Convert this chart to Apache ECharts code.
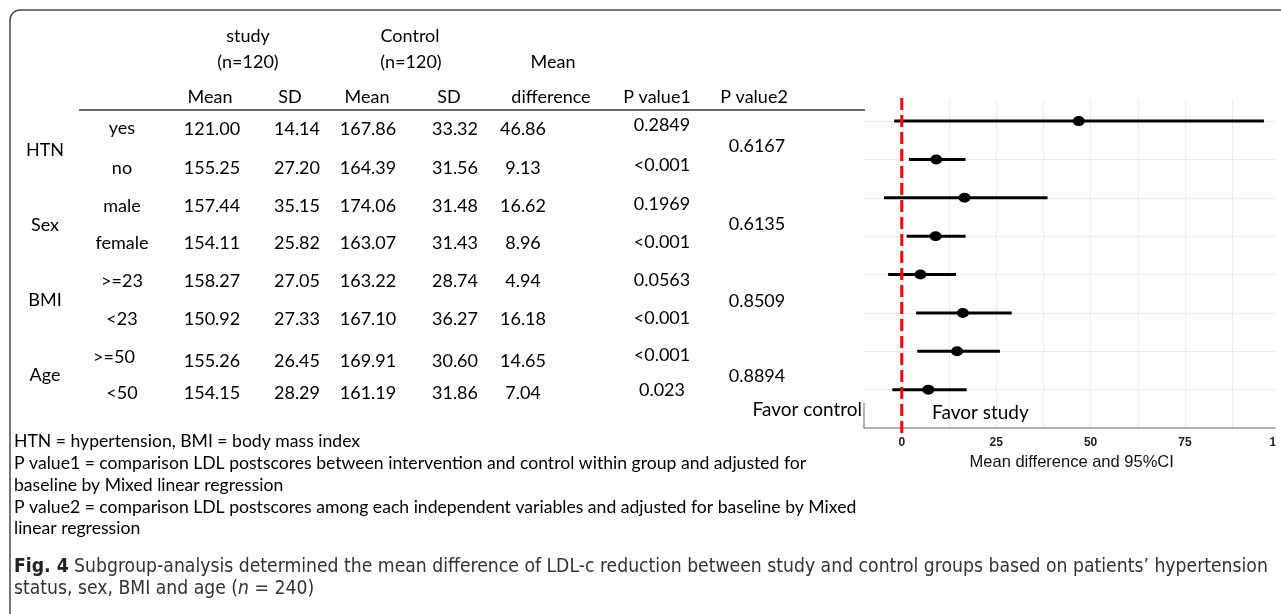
<!DOCTYPE html>
<html>
<head>
<meta charset="utf-8">
<script src="https://cdn.jsdelivr.net/npm/echarts@6/dist/echarts.min.js"></script>
<style>
  html, body { margin: 0; padding: 0; background: #fff; }
  #chart { width: 1281px; height: 614px; }
</style>
</head>
<body>
<div id="chart"></div>
<script>
// Subgroup table values
const groups = ['HTN', 'Sex', 'BMI', 'Age'];
const subgroups = ['yes', 'no', 'male', 'female', '>=23', '<23', '>=50', '<50'];
const studyMean = ['121.00', '155.25', '157.44', '154.11', '158.27', '150.92', '155.26', '154.15'];
const studySD = ['14.14', '27.20', '35.15', '25.82', '27.05', '27.33', '26.45', '28.29'];
const controlMean = ['167.86', '164.39', '174.06', '163.07', '163.22', '167.10', '169.91', '161.19'];
const controlSD = ['33.32', '31.56', '31.48', '31.43', '28.74', '36.27', '30.60', '31.86'];
const pValue1 = ['0.2849', '<0.001', '0.1969', '<0.001', '0.0563', '<0.001', '<0.001', '0.023'];
const pValue2 = ['0.6167', '0.6135', '0.8509', '0.8894'];

// Forest plot values: mean difference with 95% CI
const meanDiff = [46.86, 9.13, 16.62, 8.96, 4.94, 16.18, 14.65, 7.04];
const ciLower = [-2.0, 1.9, -4.7, 1.3, -3.6, 3.8, 4.1, -2.5];
const ciUpper = [95.9, 16.9, 38.6, 16.9, 14.4, 29.1, 26.0, 17.2];
const noEffect = 0;
const xTickLabels = [0, 25, 50, 75, 100];
const xGridValues = [0, 12.5, 25, 37.5, 50, 62.5, 75, 87.5, 100];

// Footnotes and caption
const footnotes = [
  'HTN = hypertension, BMI = body mass index',
  'P value1 = comparison LDL postscores between intervention and control within group and adjusted for',
  'baseline by Mixed linear regression',
  'P value2 = comparison LDL postscores among each independent variables and adjusted for baseline by Mixed',
  'linear regression'
];
const captionLine1 = 'Subgroup-analysis determined the mean difference of LDL-c reduction between study and control groups based on patients\u2019 hypertension';
const captionLine2a = 'status, sex, BMI and age (';
const captionLine2b = ' = 240)';

// ---- layout ----
const TABLE_FONT = '18px Lato';
const colX = { sub: 122, sMean: 212, sSD: 297, cMean: 368, cSD: 455, diff: 523, p1: 662, p2: 757 };
const rowY = [129, 168, 206, 243, 281, 319, 361, 393];
const subY = [128, 168, 206, 243, 281, 319, 357, 393];
const p1Y = [125, 165, 204, 242, 280, 318, 355, 390];
const groupY = [150, 225, 300, 375];
const p2Y = [146, 224, 301, 376];

function txt(x, y, text, font, align, fill) {
  return {
    type: 'text', x: x, y: y, z: 50,
    style: {
      text: text, font: font || TABLE_FONT, fill: fill || '#000',
      align: align || 'center', verticalAlign: 'middle',
      textAlign: align || 'center', textVerticalAlign: 'middle'
    }
  };
}

const g = [];
// outer figure frame
g.push({ type: 'rect', z: 1, shape: { x: 10, y: 10, width: 1320, height: 700, r: 10 },
  style: { fill: 'none', stroke: '#4a4a4a', lineWidth: 1.5 } });

// table header
g.push(txt(248, 36, 'study'));
g.push(txt(248, 62, '(n=120)'));
g.push(txt(410, 36, 'Control'));
g.push(txt(411, 62, '(n=120)'));
g.push(txt(553, 62, 'Mean'));
[['Mean', 210], ['SD', 290], ['Mean', 367], ['SD', 449], ['difference', 551], ['P value1', 657], ['P value2', 754]]
  .forEach(function (h) { g.push(txt(h[1], 97, h[0])); });
g.push({ type: 'line', z: 40, shape: { x1: 79, y1: 110, x2: 865, y2: 110 },
  style: { stroke: '#333', lineWidth: 1.5 } });

// table body
groups.forEach(function (name, i) { g.push(txt(45, groupY[i], name)); });
subgroups.forEach(function (name, i) {
  g.push(txt(i === 6 ? 114 : colX.sub, subY[i], name));
  g.push(txt(colX.sMean, rowY[i], studyMean[i]));
  g.push(txt(colX.sSD, rowY[i], studySD[i]));
  g.push(txt(colX.cMean, rowY[i], controlMean[i]));
  g.push(txt(colX.cSD, rowY[i], controlSD[i]));
  g.push(txt(colX.diff, rowY[i], meanDiff[i].toFixed(2)));
  g.push(txt(colX.p1, p1Y[i], pValue1[i]));
});
pValue2.forEach(function (p, i) { g.push(txt(colX.p2, p2Y[i], p)); });

// favour labels
g.push(txt(862, 410, 'Favor control', '19px Lato', 'right'));
g.push(txt(932, 413, 'Favor study', '19px Lato', 'left'));
// left axis stub of the forest panel
g.push({ type: 'line', z: 40, shape: { x1: 864, y1: 403, x2: 864, y2: 428 },
  style: { stroke: '#999', lineWidth: 1.5 } });

// footnotes
const footY = [441, 463, 485, 507, 528];
footnotes.forEach(function (line, i) { g.push(txt(14, footY[i], line, '17.6px Lato', 'left', '#000')); });

// caption
const CAP_FONT = 'Liberation Sans Narrow, DejaVu Sans Condensed, sans-serif';
g.push({
  type: 'text', x: 14, y: 567, z: 50,
  style: {
    text: '{b|Fig. 4} ' + captionLine1,
    font: '19.2px ' + CAP_FONT, fill: '#333', verticalAlign: 'middle', textVerticalAlign: 'middle',
    rich: { b: { fontWeight: 'bold', fontSize: 19.2, fontFamily: CAP_FONT, fill: '#222' } }
  }
});
g.push({
  type: 'text', x: 14, y: 589, z: 50,
  style: {
    text: captionLine2a + '{i|n}' + captionLine2b,
    font: '19.2px ' + CAP_FONT, fill: '#333', verticalAlign: 'middle', textVerticalAlign: 'middle',
    rich: { i: { fontStyle: 'italic', fontSize: 19.2, fontFamily: CAP_FONT, fill: '#333' } }
  }
});

// the forest panel is trimmed at the figure edge
g.push({ type: 'rect', z: 60, shape: { x: 1275.5, y: 95, width: 10, height: 360 },
  style: { fill: '#fff' } });

const rows = meanDiff.map(function (_, i) { return i; });

const chart = echarts.init(document.getElementById('chart'), null, { renderer: 'canvas' });
chart.setOption({
  animation: false,
  backgroundColor: '#fff',
  grid: { left: 864, right: 1.6, top: 100, bottom: 186, containLabel: false, outerBoundsMode: 'none' },
  xAxis: {
    type: 'value', min: -10, max: 100,
    axisLine: { show: true, onZero: false, lineStyle: { color: '#9a9a9a', width: 1.5 } },
    axisTick: { show: false, customValues: xGridValues },
    axisLabel: {
      customValues: xTickLabels, color: '#222', fontWeight: 'bold', fontSize: 12,
      fontFamily: 'Liberation Sans', margin: 9, hideOverlap: false
    },
    splitLine: { show: true, lineStyle: { color: '#ebebeb', width: 1 } },
    name: 'Mean difference and 95%CI', nameLocation: 'middle', nameGap: 23,
    nameTextStyle: { color: '#111', fontSize: 16.5, fontFamily: 'Liberation Sans' }
  },
  yAxis: {
    type: 'value', inverse: true, min: -0.55, max: 8,
    axisLine: { show: false }, axisLabel: { show: false },
    axisTick: { show: false, customValues: rows },
    splitLine: { show: true, lineStyle: { color: '#ebebeb', width: 1 } }
  },
  series: [
    {
      type: 'custom', name: 'CI', z: 3,
      data: rows.map(function (i) { return [ciLower[i], ciUpper[i], i]; }),
      encode: { x: [0, 1], y: 2 },
      renderItem: function (params, api) {
        const a = api.coord([api.value(0), api.value(2)]);
        const b = api.coord([api.value(1), api.value(2)]);
        return { type: 'line', shape: { x1: a[0], y1: a[1], x2: b[0], y2: b[1] },
          style: { stroke: '#000', lineWidth: 3 } };
      }
    },
    {
      type: 'scatter', name: 'Mean difference', z: 4,
      data: rows.map(function (i) { return [meanDiff[i], i]; }),
      symbol: 'circle', symbolSize: [12, 10],
      itemStyle: { color: '#000', opacity: 1 }
    },
    {
      type: 'custom', name: 'No effect', z: 5, clip: false,
      data: [[noEffect]],
      encode: { x: 0 },
      renderItem: function (params, api) {
        const top = api.coord([api.value(0), -0.55]);
        const bottom = api.coord([api.value(0), 8]);
        return { type: 'line', shape: { x1: top[0], y1: top[1] - 2, x2: bottom[0], y2: bottom[1] + 9 },
          style: { stroke: '#ff0000', lineWidth: 3, lineDash: [12, 5] } };
      }
    }
  ],
  graphic: { elements: g }
});
</script>
</body>
</html>
